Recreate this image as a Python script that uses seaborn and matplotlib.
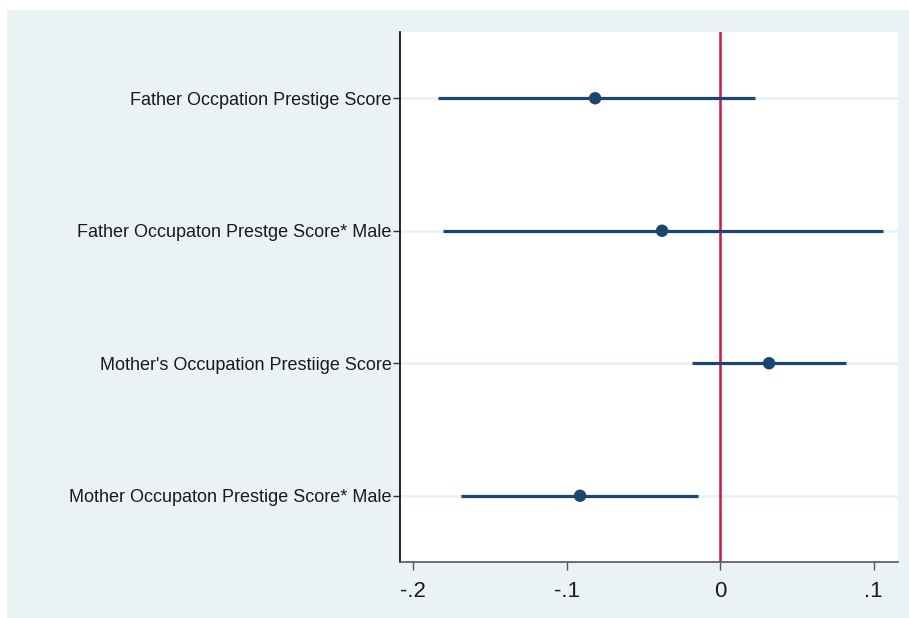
"""coefficient plot: parental occupation prestige scores"""

import numpy as np
import pandas as pd
import matplotlib
matplotlib.use("Agg")
import matplotlib.pyplot as plt
import seaborn as sns

labels = [
    "Father Occpation Prestige Score",
    "Father Occupaton Prestge Score* Male",
    "Mother's Occupation Prestiige Score",
    "Mother Occupaton Prestige Score* Male",
]
estimates = [-0.0814, -0.0378, 0.0319, -0.0912]
ci_low = [-0.1840, -0.1805, -0.0180, -0.1685]
ci_high = [0.0228, 0.1063, 0.0821, -0.0143]
xticks = [-0.2, -0.1, 0, 0.1]
xticklabels = ["-.2", "-.1", "0", ".1"]

NAVY = "#1A476F"
RED = "#D2173F"
BG = "#EAF2F3"

df = pd.DataFrame(
    {"term": labels, "pos": np.arange(len(labels)), "b": estimates,
     "lo": ci_low, "hi": ci_high}
)

sns.set_theme(style="white")
plt.rcParams["font.family"] = ["Liberation Sans", "DejaVu Sans"]

fig = plt.figure(figsize=(9.09, 6.18), dpi=100, facecolor="white")
# stata-like outer background, leaving a thin white border top/left
fig.patches.append(
    plt.Rectangle((7 / 909, 0), 1, 1 - 10 / 618, transform=fig.transFigure,
                  facecolor=BG, edgecolor="none", zorder=-5)
)
ax = fig.add_axes([400 / 909, 1 - 562 / 618, 498 / 909, 530 / 618])
ax.set_facecolor("white")

for p in df["pos"]:
    ax.axhline(p, color=BG, lw=2, zorder=1)
ax.axvline(0, color=RED, lw=1.8, zorder=2)
ax.hlines(df["pos"], df["lo"], df["hi"], color=NAVY, lw=2.3, zorder=3)
sns.scatterplot(data=df, x="b", y="pos", ax=ax, color=NAVY, s=80,
                edgecolor="none", zorder=4, legend=False)

ax.set_xlim(-0.2085, 0.1159)
ax.set_ylim(len(labels) - 0.5, -0.5)
ax.set_yticks(df["pos"])
ax.set_yticklabels(labels, fontsize=13, color="#1a1a1a")
ax.set_xticks(xticks)
ax.set_xticklabels(xticklabels, fontsize=16, color="#1a1a1a")
ax.set_xlabel("")
ax.set_ylabel("")

sns.despine(ax=ax, top=True, right=True)
ax.spines["left"].set_color("black")
ax.spines["left"].set_linewidth(1.2)
ax.spines["bottom"].set_color("#555555")
ax.spines["bottom"].set_linewidth(1.2)
ax.tick_params(axis="y", length=5, width=1, color="#333333", pad=1, left=True)
ax.tick_params(axis="x", length=6, width=1, color="#555555", pad=8, bottom=True)

fig.savefig("out.png", dpi=100, facecolor=fig.get_facecolor())
plt.close(fig)
